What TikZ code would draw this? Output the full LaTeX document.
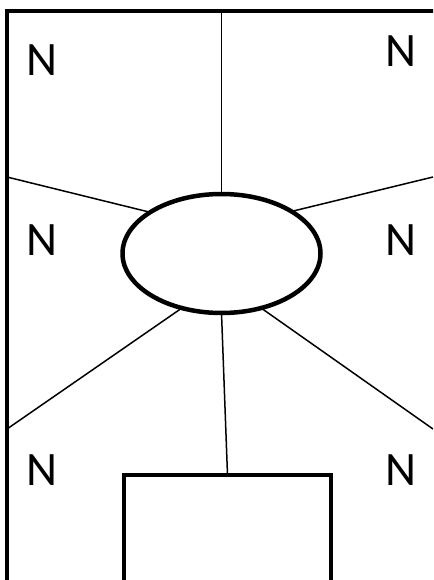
\documentclass[tikz,border=0pt]{standalone}
\usepackage{fontspec}
\setmainfont{Carlito}
\usetikzlibrary{shapes.geometric}

\begin{document}
\begin{tikzpicture}[x=1pt,y=-1pt,
        thin line/.style={line width=1.5pt},
        thick line/.style={line width=4.5pt},
        nlabel/.style={font=\fontsize{48}{58}\selectfont, inner sep=0pt}]
        \useasboundingbox (0,0) rectangle (433,580);
        \clip (0,0) rectangle (433,580);

        % frame
        \draw[thick line] (7,600) -- (7,11) -- (436.5,11) -- (436.5,600);

        \node[ellipse, draw, thick line, minimum width=198pt, minimum height=119pt, inner sep=0pt, outer sep=0pt] (hub) at (221.5,253.5) {};
        \node[rectangle, draw, thick line, minimum width=207pt, minimum height=200pt, outer sep=0pt] (box) at (227.5,575) {};

        \coordinate (top) at (221.5,11);
        \coordinate (lu) at (7,177);
        \coordinate (ru) at (433,177);
        \coordinate (ll) at (7,429);
        \coordinate (rl) at (433,429);

        \draw[thin line] (top) -- (hub.north);
        \draw[thin line] (lu) -- (hub.150);
        \draw[thin line] (ru) -- (hub.31);
        \draw[thin line] (ll) -- (hub.234);
        \draw[thin line] (rl) -- (hub.306);
        \draw[thin line] (hub.south) -- (box.north);

        \node[nlabel] (ntl) at (41.5,60.5) {N};
        \node[nlabel] (ntr) at (400.5,51) {N};
        \node[nlabel] (nml) at (41.5,240.5) {N};
        \node[nlabel] (nmr) at (400.5,240.5) {N};
        \node[nlabel] (nbl) at (41.5,470) {N};
        \node[nlabel] (nbr) at (401,470) {N};
\end{tikzpicture}
\end{document}
